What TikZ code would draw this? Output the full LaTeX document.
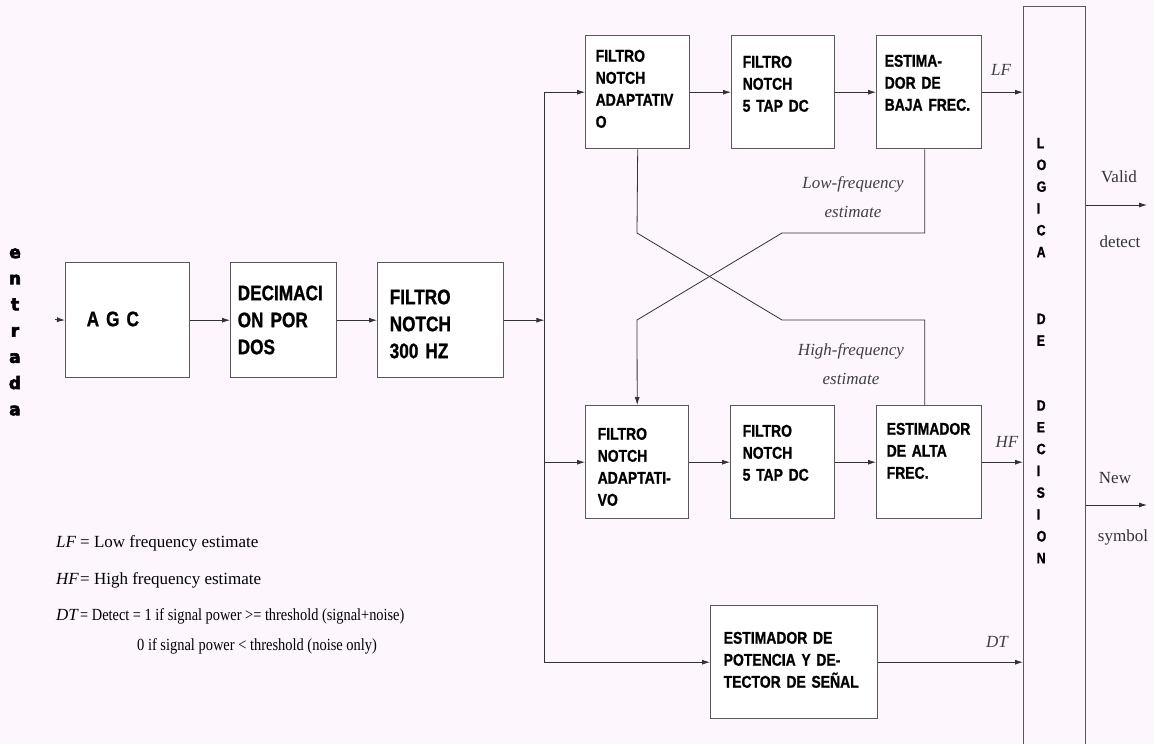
\documentclass[tikz,border=0pt]{standalone}
\usepackage{fontspec}
\usepackage{graphicx}
\setmainfont{Liberation Serif}
\newfontfamily\bxf[FakeStretch=0.82,FakeBold=1]{Liberation Sans}
\newfontfamily\entf[FakeBold=4]{DejaVu Sans}
\usetikzlibrary{arrows.meta}
\definecolor{bg}{RGB}{253,247,253}
\begin{document}
\begin{tikzpicture}[x=1pt,y=-1pt,
  blk/.style={draw=black!65, line width=1.4pt, fill=white, anchor=north west, inner ysep=0pt, align=left},
  big/.style={font=\bxf\bfseries\fontsize{21}{27}\selectfont},
  sml/.style={font=\bxf\bfseries\fontsize{17}{22}\selectfont},
  arr/.style={draw=black!80, line width=0.8pt, -{Latex[length=8pt,width=5pt]}},
  ln/.style={draw=black!80, line width=0.8pt},
  lab/.style={font=\itshape\fontsize{17}{29}\selectfont, text=black!75},
  txt/.style={font=\fontsize{17}{20}\selectfont, text=black!80},
  leg/.style={font=\fontsize{17}{20}\selectfont, anchor=base west, inner sep=0pt}]
\fill[bg] (0,0) rectangle (1154,744);
\useasboundingbox (0,0) rectangle (1154,744);

% entrada
\node[font=\entf\bfseries\fontsize{17}{26.2}\selectfont, text width=20pt, align=center, anchor=base, inner sep=0pt] (ent) at (15,258) {e\\n\\t\\r\\a\\d\\a};

% first row
\node[blk,big,inner xsep=21pt,text width=82pt,text height=63.5pt,text depth=51.5pt] (agc) at (65,262) {A G C};
\node[blk,big,inner xsep=7pt,text width=92pt,text height=37.5pt,text depth=77.5pt] (dec) at (230,262) {DECIMACI\\ON POR\\DOS};
\node[blk,big,inner xsep=12pt,text width=102pt,text height=41.5pt,text depth=73.5pt] (f300) at (377,262) {FILTRO\\NOTCH\\300 HZ};

% upper branch
\node[blk,sml,inner xsep=10pt,text width=84pt,text height=26pt,text depth=87pt] (a1) at (585,35) {FILTRO\\NOTCH\\ADAPTATIV\\O};
\node[blk,sml,inner xsep=11pt,text width=81pt,text height=32pt,text depth=81pt] (t1) at (731,35) {FILTRO\\NOTCH\\5 TAP DC};
\node[blk,sml,inner xsep=8pt,text width=89pt,text height=31pt,text depth=82pt] (e1) at (876,35) {ESTIMA-\\DOR DE\\BAJA FREC.};

% lower branch
\node[blk,sml,inner xsep=12pt,text width=79pt,text height=34pt,text depth=79pt] (a2) at (585,405) {FILTRO\\NOTCH\\ADAPTATI-\\VO};
\node[blk,sml,inner xsep=12pt,text width=80pt,text height=31pt,text depth=82pt] (t2) at (730,405) {FILTRO\\NOTCH\\5 TAP DC};
\node[blk,sml,inner xsep=10pt,text width=85pt,text height=29pt,text depth=84pt] (e2) at (876,405) {ESTIMADOR\\DE ALTA\\FREC.};

% power estimator
\node[blk,sml,inner xsep=13pt,text width=141pt,text height=38pt,text depth=75pt] (pot) at (710,605) {ESTIMADOR DE\\POTENCIA Y DE-\\TECTOR DE SEÑAL};

% decision logic
\node[blk,fill=none,font=\bxf\bfseries\fontsize{15}{21.8}\selectfont,inner xsep=13pt,text width=36pt,text height=141.5pt,text depth=602.5pt] (lg) at (1023,6) {L\\O\\G\\I\\C\\A\\[45pt]D\\E\\[43pt]D\\E\\C\\I\\S\\I\\O\\N};

% input
\coordinate (in) at (55,319.5);
\draw[arr] (in) -- (agc.west);
\draw[arr] (agc.east) -- (dec.west);
\draw[arr] (dec.east) -- (f300.west);
\draw[arr] (f300.east) -- ++(40,0) coordinate (J);
\draw[ln] (J |- a1.west) -- (J |- pot.west);
\draw[arr] (J |- a1.west) -- (a1.west);
\draw[arr] (J |- a2.west) -- (a2.west);
\draw[arr] (J |- pot.west) -- (pot.west);

\draw[arr] (a1.east) -- (t1.west);
\draw[arr] (t1.east) -- (e1.west);
\draw[arr] (e1.east) -- (e1.east -| lg.west);
\draw[arr] (a2.east) -- (t2.west);
\draw[arr] (t2.east) -- (e2.west);
\draw[arr] (e2.east) -- (e2.east -| lg.west);
\draw[arr] (pot.east) -- (pot.east -| lg.west);

% cross-over
\draw[arr] ([xshift=-4.5pt]e1.south) |- (782,233) -- (637,320) -- (a2.north);
\draw[ln] ([xshift=-4.5pt]e2.north) |- (782,320) -- (637,233) -- (a1.south);

% outputs
\coordinate (vd) at (1147,205);
\coordinate (ns) at (1147,505);
\draw[arr] (vd -| lg.east) -- (vd);
\draw[arr] (ns -| lg.east) -- (ns);

% labels
\node[lab] (lfl) at (1001,70) {LF};
\node[lab] (hfl) at (1007,442) {HF};
\node[lab] (dtl) at (997,642) {DT};
\node[lab,align=center] (lfe) at (853,197.5) {Low-frequency\\estimate};
\node[lab,align=center] (hfe) at (851,364) {High-frequency\\estimate};
\node[txt] (val) at (1119,177) {Valid};
\node[txt] (det) at (1120,242) {detect};
\node[txt] (new) at (1115,478) {New};
\node[txt] (sym) at (1123,537) {symbol};

% legend
\node[leg] (leg1) at (56,547) {\makebox[24pt][l]{\textit{LF}}= Low frequency estimate};
\node[leg] (leg2) at (56,584) {\makebox[24pt][l]{\textit{HF}}= High frequency estimate};
\node[leg] (leg3) at (56,620) {\makebox[24pt][l]{\textit{DT}}\scalebox{0.845}[1]{= Detect = 1 if signal power >= threshold (signal+noise)}};
\node[leg] (leg4) at (137,650) {\scalebox{0.85}[1]{0 if signal power < threshold (noise only)}};
\end{tikzpicture}
\end{document}
